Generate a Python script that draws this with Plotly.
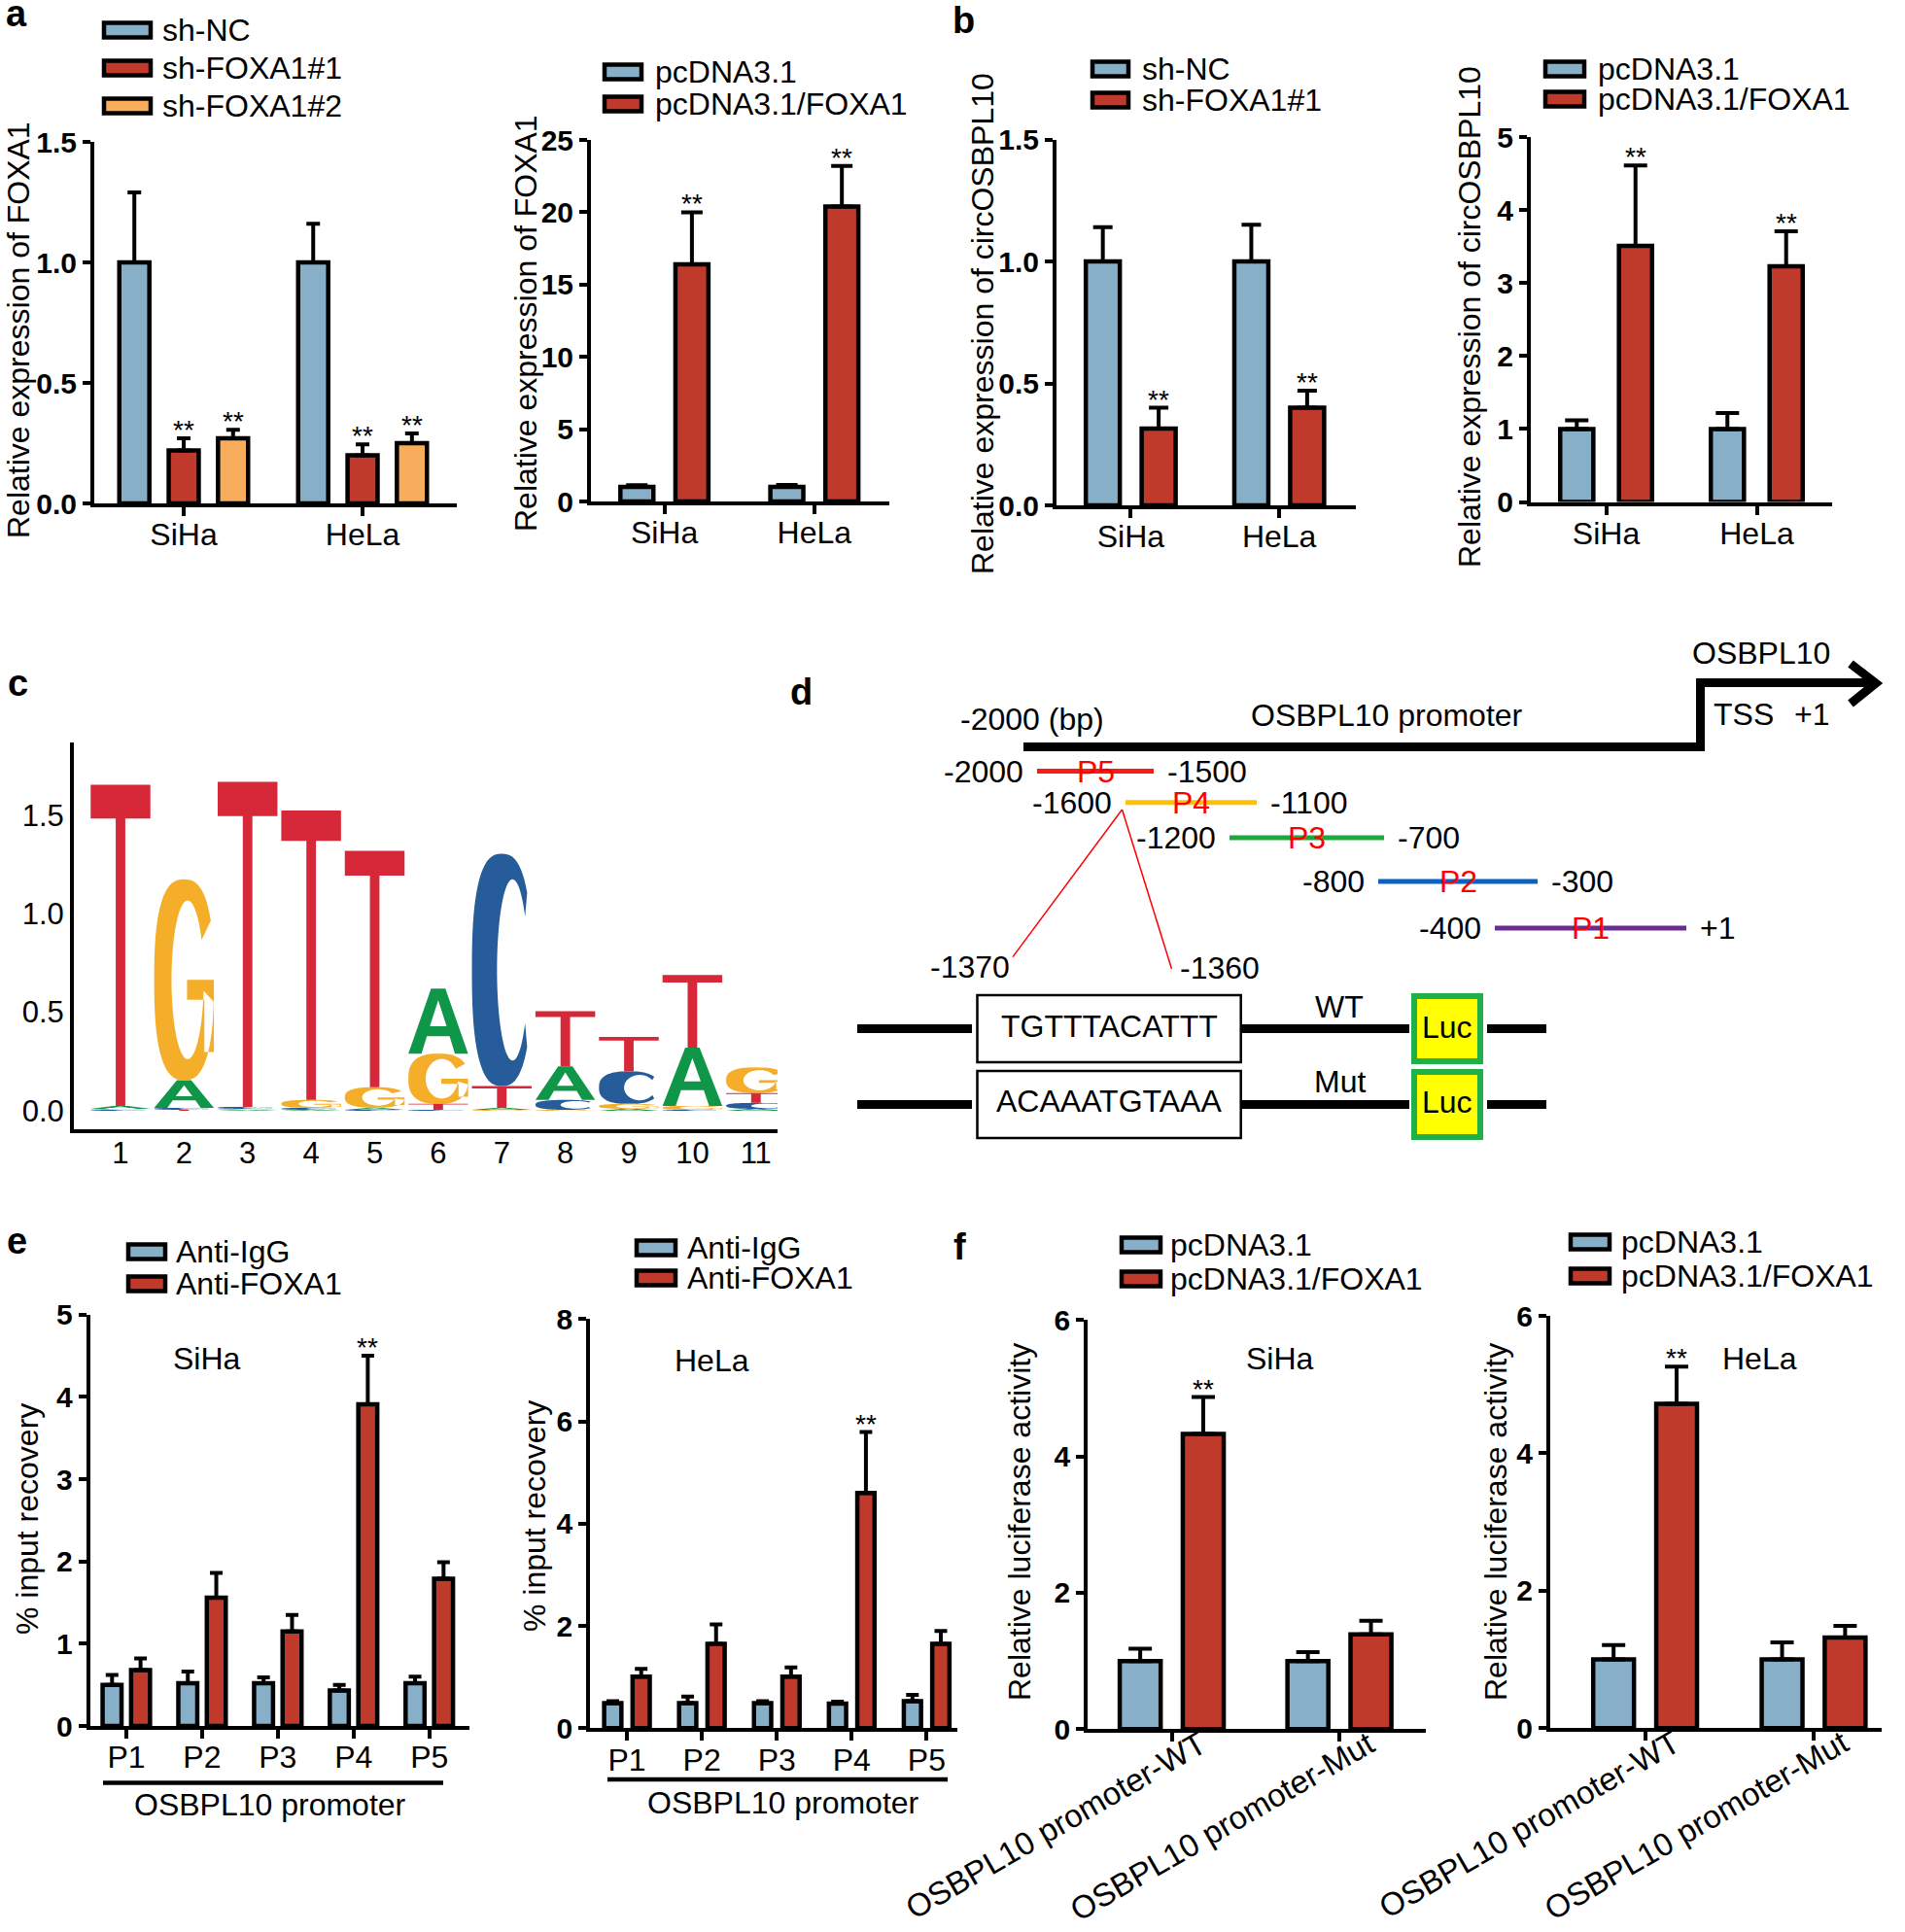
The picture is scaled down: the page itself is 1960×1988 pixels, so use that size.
import numpy as np
import plotly.graph_objects as go

W, H = 1960, 1988
FONT = "Liberation Sans, Arial, sans-serif"
BLUE, RED, ORANGE = "#88afc8", "#bf3a2b", "#f7ad5c"

# ---------------- data ----------------
CELLS = ["SiHa", "HeLa"]

A1_SERIES = ["sh-NC", "sh-FOXA1#1", "sh-FOXA1#2"]
A1_MEAN = [[1.0, 1.0], [0.22, 0.20], [0.27, 0.25]]
A1_SD = [[0.29, 0.16], [0.05, 0.045], [0.035, 0.04]]
A1_SIG = [["", ""], ["**", "**"], ["**", "**"]]

A2_SERIES = ["pcDNA3.1", "pcDNA3.1/FOXA1"]
A2_MEAN = [[1.0, 1.0], [16.4, 20.4]]
A2_SD = [[0.12, 0.15], [3.6, 2.8]]
A2_SIG = [["", ""], ["**", "**"]]

B1_SERIES = ["sh-NC", "sh-FOXA1#1"]
B1_MEAN = [[1.0, 1.0], [0.315, 0.40]]
B1_SD = [[0.14, 0.15], [0.085, 0.07]]
B1_SIG = [["", ""], ["**", "**"]]

B2_SERIES = ["pcDNA3.1", "pcDNA3.1/FOXA1"]
B2_MEAN = [[1.0, 1.0], [3.51, 3.23]]
B2_SD = [[0.12, 0.22], [1.10, 0.48]]
B2_SIG = [["", ""], ["**", "**"]]

LOGO_POS = list(range(1, 12))
LOGO_A = [0.015, 0.14, 0.005, 0.005, 0.01, 0.33, 0.01, 0.17, 0.01, 0.295, 0.01]
LOGO_C = [0.005, 0.01, 0.01, 0.01, 0.005, 0.005, 1.18, 0.05, 0.165, 0.005, 0.03]
LOGO_G = [0.005, 1.02, 0.005, 0.04, 0.105, 0.255, 0.005, 0.005, 0.025, 0.02, 0.13]
LOGO_T = [1.63, 0.005, 1.65, 1.47, 1.2, 0.03, 0.11, 0.28, 0.175, 0.37, 0.05]

FRAG_NAMES = ["P5", "P4", "P3", "P2", "P1"]
FRAG_START = ["-2000", "-1600", "-1200", "-800", "-400"]
FRAG_END = ["-1500", "-1100", "-700", "-300", "+1"]
SITE = ["-1370", "-1360"]
SEQ_WT = "TGTTTACATTT"
SEQ_MUT = "ACAAATGTAAA"

PROM = ["P1", "P2", "P3", "P4", "P5"]
E_SERIES = ["Anti-IgG", "Anti-FOXA1"]
E1_MEAN = [[0.50, 0.52, 0.52, 0.43, 0.52], [0.68, 1.56, 1.15, 3.91, 1.79]]
E1_SD = [[0.12, 0.14, 0.07, 0.07, 0.08], [0.14, 0.30, 0.20, 0.59, 0.20]]
E1_SIG = [["", "", "", "", ""], ["", "", "", "**", ""]]
E2_MEAN = [[0.49, 0.49, 0.49, 0.48, 0.53], [1.01, 1.65, 1.01, 4.60, 1.65]]
E2_SD = [[0.04, 0.13, 0.04, 0.04, 0.12], [0.15, 0.38, 0.18, 1.19, 0.25]]
E2_SIG = [["", "", "", "", ""], ["", "", "", "**", ""]]

CONSTRUCTS = ["OSBPL10 promoter-WT", "OSBPL10 promoter-Mut"]
F_SERIES = ["pcDNA3.1", "pcDNA3.1/FOXA1"]
F1_MEAN = [[1.0, 1.0], [4.33, 1.39]]
F1_SD = [[0.18, 0.13], [0.54, 0.20]]
F1_SIG = [["", ""], ["**", ""]]
F2_MEAN = [[1.0, 1.0], [4.72, 1.32]]
F2_SD = [[0.21, 0.25], [0.54, 0.17]]
F2_SIG = [["", ""], ["**", ""]]

# ---------------- helpers ----------------
annotations, shapes = [], []


def px(x):
    return x / W


def py(y):
    return 1 - y / H


def text(x, y, s, size=32, color="black", bold=False, xanchor="center", angle=0):
    annotations.append(dict(
        x=px(x), y=py(y), xref="paper", yref="paper", text=s, showarrow=False,
        xanchor=xanchor, yanchor="middle", textangle=angle,
        font=dict(family=FONT, size=size, color=color, weight="bold" if bold else "normal")))


def seg(x0, y0, x1, y1, color="black", width=9):
    shapes.append(dict(type="line", xref="paper", yref="paper",
                       x0=px(x0), y0=py(y0), x1=px(x1), y1=py(y1),
                       line=dict(color=color, width=width)))


def box(x0, y0, x1, y1, line_color="black", line_width=4.5, fill="white"):
    shapes.append(dict(type="rect", xref="paper", yref="paper",
                       x0=px(x0), y0=py(y1), x1=px(x1), y1=py(y0),
                       line=dict(color=line_color, width=line_width), fillcolor=fill))


def path(points, color="black", width=9):
    d = "M " + " L ".join(f"{px(x)},{py(y)}" for x, y in points)
    shapes.append(dict(type="path", xref="paper", yref="paper", path=d,
                       line=dict(color=color, width=width), fillcolor="rgba(0,0,0,0)"))


fig = go.Figure()
layout = {}

# ---------------- bar panels ----------------
BAR_PANELS = [
    dict(cats=CELLS, series=A1_SERIES, mean=A1_MEAN, sd=A1_SD, sig=A1_SIG, colors=[BLUE, RED, ORANGE],
         xpx=(97, 470), xr=(-0.5, 1.527), ypx=(146, 518), yr=(0, 1.5), yt=[0, 0.5, 1, 1.5], fmt=".1f",
         pitch=0.276, bw=0.168, cap=7, title="Relative expression of FOXA1", tpos=(19, 340),
         leg=(107, 155, [31, 70, 109], 165)),
    dict(cats=CELLS, series=A2_SERIES, mean=A2_MEAN, sd=A2_SD, sig=A2_SIG, colors=[BLUE, RED],
         xpx=(608, 915), xr=(-0.49, 1.5), ypx=(144, 516), yr=(0, 25), yt=[0, 5, 10, 15, 20, 25], fmt="d",
         pitch=0.367, bw=0.22, cap=11, title="Relative expression of FOXA1", tpos=(541, 333),
         leg=(622, 660, [74, 107], 672)),
    dict(cats=CELLS, series=B1_SERIES, mean=B1_MEAN, sd=B1_SD, sig=B1_SIG, colors=[BLUE, RED],
         xpx=(1087, 1395), xr=(-0.5, 1.516), ypx=(143.5, 520), yr=(0, 1.5), yt=[0, 0.5, 1, 1.5], fmt=".1f",
         pitch=0.376, bw=0.229, cap=10, title="Relative expression of circOSBPL10", tpos=(1011, 333),
         leg=(1124, 1161, [71, 103], 1173)),
    dict(cats=CELLS, series=B2_SERIES, mean=B2_MEAN, sd=B2_SD, sig=B2_SIG, colors=[BLUE, RED],
         xpx=(1575, 1885), xr=(-0.5, 1.5), ypx=(141, 516.6), yr=(0, 5), yt=[0, 1, 2, 3, 4, 5], fmt="d",
         pitch=0.39, bw=0.22, cap=12, title="Relative expression of circOSBPL10", tpos=(1512, 326),
         leg=(1590, 1630, [71, 102], 1642)),
    dict(cats=PROM, series=E_SERIES, mean=E1_MEAN, sd=E1_SD, sig=E1_SIG, colors=[BLUE, RED],
         xpx=(92.7, 483), xr=(-0.478, 4.53), ypx=(1352.7, 1776), yr=(0, 5), yt=[0, 1, 2, 3, 4, 5], fmt="d",
         pitch=0.376, bw=0.25, cap=6.5, title="% input recovery", tpos=(28, 1563),
         leg=(132, 170, [1288, 1321], 179), cell=("SiHa", 213, 1398)),
    dict(cats=PROM, series=E_SERIES, mean=E2_MEAN, sd=E2_SD, sig=E2_SIG, colors=[BLUE, RED],
         xpx=(607.3, 985), xr=(-0.49, 4.41), ypx=(1357.3, 1778.3), yr=(0, 8), yt=[0, 2, 4, 6, 8], fmt="d",
         pitch=0.379, bw=0.23, cap=6.5, title="% input recovery", tpos=(550, 1560),
         leg=(655, 695, [1284, 1315], 705), cell=("HeLa", 732, 1400)),
    dict(cats=CONSTRUCTS, series=F_SERIES, mean=F1_MEAN, sd=F1_SD, sig=F1_SIG, colors=[BLUE, RED],
         xpx=(1119.3, 1467.3), xr=(-0.5, 1.517), ypx=(1358.3, 1779.3), yr=(0, 6), yt=[0, 2, 4, 6], fmt="d",
         pitch=0.376, bw=0.244, cap=12, title="Relative luciferase activity", tpos=(1049, 1566),
         leg=(1154, 1194, [1281, 1316], 1202), cell=("SiHa", 1317, 1398), angle=-30),
    dict(cats=CONSTRUCTS, series=F_SERIES, mean=F2_MEAN, sd=F2_SD, sig=F2_SIG, colors=[BLUE, RED],
         xpx=(1595, 1936), xr=(-0.563, 1.404), ypx=(1354, 1778.3), yr=(0, 6), yt=[0, 2, 4, 6], fmt="d",
         pitch=0.374, bw=0.242, cap=12, title="Relative luciferase activity", tpos=(1539, 1566),
         leg=(1616, 1656, [1278, 1313], 1666), cell=("HeLa", 1810, 1398), angle=-30),
]

for n, p in enumerate(BAR_PANELS, start=1):
    xid = "x" if n == 1 else f"x{n}"
    yid = "y" if n == 1 else f"y{n}"
    ns = len(p["series"])
    for j, name in enumerate(p["series"]):
        shift = (j - (ns - 1) / 2) * p["pitch"]
        fig.add_trace(go.Bar(
            x=p["cats"], y=p["mean"][j], name=name,
            width=p["bw"], offset=shift - p["bw"] / 2,
            marker=dict(color=p["colors"][j], line=dict(color="black", width=4.5)),
            error_y=dict(type="data", symmetric=False, array=p["sd"][j],
                         arrayminus=[0] * len(p["cats"]), color="black",
                         thickness=4, width=p["cap"]),
            xaxis=xid, yaxis=yid, showlegend=False, hoverinfo="skip"))
        for k, mark in enumerate(p["sig"][j]):
            if mark:
                annotations.append(dict(
                    x=k + shift, y=p["mean"][j][k] + p["sd"][j][k], xref=xid, yref=yid,
                    text=mark, showarrow=False, yanchor="bottom", yshift=-9,
                    font=dict(family=FONT, size=28, color="black")))
    rotated = "angle" in p
    layout["xaxis" if n == 1 else f"xaxis{n}"] = dict(
        domain=[px(p["xpx"][0]), px(p["xpx"][1])], range=list(p["xr"]), anchor=yid,
        type="category", categoryorder="array", categoryarray=p["cats"],
        showline=True, linewidth=4, linecolor="black", ticks="outside", ticklen=9,
        tickwidth=4, tickcolor="black", tickangle=p.get("angle", 0),
        ticklabelstandoff=-29 if rotated else -8, ticklabelshift=30 if rotated else 0,
        tickfont=dict(family=FONT, size=33 if rotated else 32, color="black"), automargin=False,
        showgrid=False, zeroline=False, fixedrange=True)
    layout["yaxis" if n == 1 else f"yaxis{n}"] = dict(
        domain=[py(p["ypx"][1]), py(p["ypx"][0])], range=list(p["yr"]), anchor=xid,
        showline=True, linewidth=4, linecolor="black", ticks="outside", ticklen=8,
        tickwidth=4, tickcolor="black", tickvals=p["yt"], tickformat=p["fmt"],
        tickfont=dict(family=FONT, size=30, color="black", weight="bold"), automargin=False,
        showgrid=False, zeroline=False, fixedrange=True)
    text(p["tpos"][0], p["tpos"][1], p["title"], angle=-90)
    bx0, bx1, rows, tx = p["leg"]
    for j, name in enumerate(p["series"]):
        box(bx0, rows[j] - 7.5, bx1, rows[j] + 7.5, fill=p["colors"][j])
        text(tx, rows[j], name, xanchor="left")
    if "cell" in p:
        text(p["cell"][1], p["cell"][2], p["cell"][0])


# ---------------- sequence logo (c) ----------------
def sup(a, n):
    return np.sign(a) * np.abs(a) ** (2.0 / n)


def ring(cx_in, rx_in, ry_in, a0, a1, k=60):
    t = np.radians(np.linspace(a0, a1, k))
    outer = [(0.5 + 0.5 * sup(np.cos(a), 2.6), 0.5 + 0.5 * sup(np.sin(a), 2.6)) for a in t]
    inner = [(cx_in + rx_in * np.cos(a), 0.5 + ry_in * np.sin(a)) for a in t[::-1]]
    return outer + inner


GLYPHS = {
    "T": [[(0, 1), (1, 1), (1, 0.895), (0.58, 0.895), (0.58, 0), (0.42, 0), (0.42, 0.895), (0, 0.895)]],
    "A": [[(0, 0), (0.38, 1), (0.62, 1), (1, 0), (0.78, 0), (0.69, 0.27), (0.31, 0.27),
           (0.36, 0.42), (0.64, 0.42), (0.5, 0.82), (0.36, 0.42), (0.31, 0.27), (0.22, 0)]],
    "C": [ring(0.68, 0.26, 0.39, 36, 324)],
    "G": [ring(0.56, 0.27, 0.395, 30, 352),
          [(0.55, 0.5), (1.0, 0.5), (1.0, 0.14), (0.84, 0.14), (0.84, 0.40), (0.55, 0.40)]],
}
LETTER_COLORS = {"A": "#109648", "C": "#255c99", "G": "#f5ae2a", "T": "#d62839"}
heights = {"A": LOGO_A, "C": LOGO_C, "G": LOGO_G, "T": LOGO_T}

LX, LY = "x9", "y9"
coords = {L: ([], []) for L in "ACGT"}
for k, pos in enumerate(LOGO_POS):
    base = 0.0
    for L in sorted("ACGT", key=lambda s: heights[s][k]):
        h = heights[L][k]
        for poly in GLYPHS[L]:
            coords[L][0].extend([pos - 0.47 + 0.94 * u for u, v in poly] + [None])
            coords[L][1].extend([base + h * v for u, v in poly] + [None])
        base += h
for L in "ACGT":
    fig.add_trace(go.Scatter(x=coords[L][0], y=coords[L][1], mode="lines", fill="toself",
                             fillcolor=LETTER_COLORS[L], line=dict(width=0, simplify=False),
                             xaxis=LX, yaxis=LY, showlegend=False, hoverinfo="skip"))
layout["xaxis9"] = dict(domain=[px(76), px(800)], range=[0.266, 11.34], anchor=LY,
                        showline=True, linewidth=4, linecolor="black", ticks="outside",
                        ticklen=6, tickcolor="rgba(0,0,0,0)", tickvals=LOGO_POS, automargin=False,
                        ticklabelstandoff=-12,
                        tickfont=dict(family=FONT, size=31, color="black"),
                        showgrid=False, zeroline=False, fixedrange=True)
layout["yaxis9"] = dict(domain=[py(1162), py(763.6)], range=[-0.094, 1.872], anchor=LX,
                        showline=True, linewidth=4, linecolor="black", ticks="outside",
                        ticklen=6, tickcolor="rgba(0,0,0,0)", tickvals=[0, 0.5, 1.0, 1.5],
                        ticklabelstandoff=-6,
                        tickformat=".1f", tickfont=dict(family=FONT, size=31, color="black"),
                        automargin=False, showgrid=False, zeroline=False, fixedrange=True)

# ---------------- promoter diagram (d) ----------------
path([(1053, 768.6), (1749.5, 768.6), (1749.5, 702.5), (1930, 702.5)])
path([(1904, 683), (1930, 703), (1904, 724)])
text(1812, 672, "OSBPL10")
text(1794, 735, "TSS")
text(1864, 735, "+1")
text(1062, 740, "-2000 (bp)")
text(1427, 736, "OSBPL10 promoter")

FRAG_X = [(1067, 1187), (1158, 1293), (1265, 1424), (1418, 1582), (1538, 1735)]
FRAG_Y = [793.6, 825.7, 862, 907, 955]
FRAG_COLORS = ["#ff1a1a", "#ffc000", "#1ea83c", "#0a63c2", "#6a2c91"]
for name, lo, hi, (x0, x1), yy, col in zip(FRAG_NAMES, FRAG_START, FRAG_END, FRAG_X, FRAG_Y, FRAG_COLORS):
    seg(x0, yy, x1, yy, color=col, width=5)
    text((x0 + x1) / 2, yy, name, color="#ff0000")
    text(x0 - 12, yy, lo, xanchor="right")
    text(x1 + 12, yy, hi, xanchor="left")

seg(1154.5, 833, 1042, 984.6, color="#ff0000", width=1.5)
seg(1154.5, 833, 1205.5, 997, color="#ff0000", width=1.5)
text(998, 995, SITE[0])
text(1255, 996, SITE[1])

for yy, seq, tag in [(1058.6, SEQ_WT, "WT"), (1136.4, SEQ_MUT, "Mut")]:
    seg(882, yy, 1000, yy)
    seg(1277, yy, 1450, yy)
    seg(1530, yy, 1591, yy)
    box(1005.5, yy - 34.5, 1276.7, yy + 34.5, line_width=2.5)
    text(1141, yy - 3, seq)
    text(1378, yy - 23, tag)
    box(1455, yy - 33.5, 1523, yy + 33.5, line_color="#1fb04a", line_width=6, fill="#ffff00")
    text(1489, yy - 2, "Luc")

# ---------------- extras for e ----------------
seg(106, 1834.4, 456, 1834.4, width=4.5)
text(278, 1857, "OSBPL10 promoter")
seg(625, 1831, 975, 1831, width=4.5)
text(806, 1855, "OSBPL10 promoter")

# ---------------- panel letters ----------------
for s, x, y in [("a", 17, 14), ("b", 991, 21), ("c", 18, 703), ("d", 824, 712), ("e", 17, 1277), ("f", 987, 1283)]:
    text(x, y, s, size=38, bold=True)

fig.update_layout(
    width=W, height=H, margin=dict(l=0, r=0, t=0, b=0, autoexpand=False),
    paper_bgcolor="white", plot_bgcolor="white",
    font=dict(family=FONT, color="black"),
    showlegend=False, barmode="overlay",
    annotations=annotations, shapes=shapes, **layout)

fig.write_html("out.html", config={"displayModeBar": False},
               post_script="document.body.style.margin='0';")
